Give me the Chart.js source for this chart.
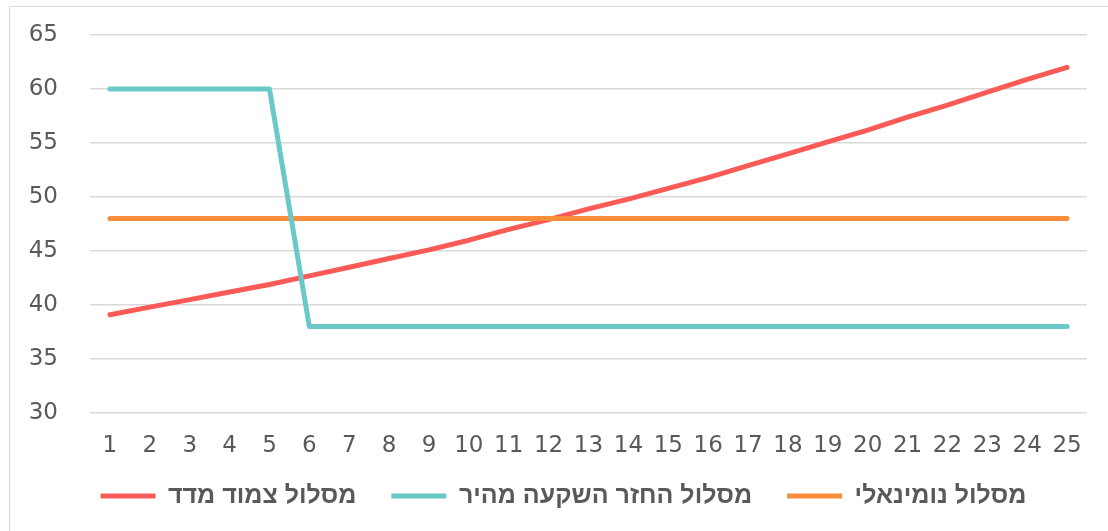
<!DOCTYPE html>
<html>
<head>
<meta charset="utf-8">
<script src="https://cdn.jsdelivr.net/npm/chart.js@4/dist/chart.umd.min.js"></script>
<style>
  html, body { margin: 0; padding: 0; background: #fff; overflow: hidden; width: 1108px; height: 531px; }
  #frame { position: absolute; left: 9px; top: 6px; width: 1120px; height: 560px; border: 1px solid #d9d9d9; box-sizing: border-box; }
  #wrap { position: absolute; left: 0; top: 0; width: 1108px; height: 531px; }
</style>
</head>
<body>
<div id="frame"></div>
<div id="wrap"><canvas id="c"></canvas></div>
<script>
const categories = ['1','2','3','4','5','6','7','8','9','10','11','12','13','14','15','16','17','18','19','20','21','22','23','24','25'];
const seriesNames = ['מסלול צמוד מדד', 'מסלול החזר השקעה מהיר', 'מסלול נומינאלי'];
const indexLinked = [39.1, 39.8, 40.5, 41.2, 41.9, 42.7, 43.5, 44.3, 45.1, 46.0, 47.0, 47.9, 48.9, 49.8, 50.8, 51.8, 52.9, 54.0, 55.1, 56.2, 57.4, 58.5, 59.7, 60.9, 62.0];
const fastReturn = [60, 60, 60, 60, 60, 38, 38, 38, 38, 38, 38, 38, 38, 38, 38, 38, 38, 38, 38, 38, 38, 38, 38, 38, 38];
const nominal = [48, 48, 48, 48, 48, 48, 48, 48, 48, 48, 48, 48, 48, 48, 48, 48, 48, 48, 48, 48, 48, 48, 48, 48, 48];
const yMin = 30, yMax = 65, yStep = 5;

const common = { borderWidth: 5, pointRadius: 0, pointHoverRadius: 0, tension: 0, borderCapStyle: 'round', borderJoinStyle: 'round', fill: false };

const legendShift = {
  id: 'legendShift',
  afterLayout(chart) {
    const lg = chart.legend;
    if (!lg) return;
    lg.top -= 12.5; lg.bottom -= 12.5;
    lg.left += 20; lg.right += 20;
  }
};

new Chart(document.getElementById('c'), {
  type: 'line',
  data: {
    labels: categories,
    datasets: [
      Object.assign({ label: seriesNames[0], data: indexLinked, borderColor: '#FA5B56', backgroundColor: '#FA5B56', order: 2 }, common),
      Object.assign({ label: seriesNames[1], data: fastReturn, borderColor: '#6BC8C8', backgroundColor: '#6BC8C8', order: 0 }, common),
      Object.assign({ label: seriesNames[2], data: nominal, borderColor: '#FC8D3B', backgroundColor: '#FC8D3B', order: 1 }, common)
    ]
  },
  plugins: [legendShift],
  options: {
    responsive: true,
    maintainAspectRatio: false,
    animation: false,
    layout: { padding: { left: 0, right: 21, top: 35, bottom: 0 } },
    scales: {
      x: {
        offset: true,
        grid: { display: false, drawTicks: false },
        border: { display: false },
        ticks: { color: '#595959', font: { family: 'DejaVu Sans', size: 23 }, padding: 19, maxRotation: 0, autoSkip: false },
        afterFit: (s) => { s.height = 48; }
      },
      y: {
        min: yMin, max: yMax,
        grid: { color: '#d9d9d9', lineWidth: 1.5, drawTicks: false },
        border: { display: false },
        ticks: { stepSize: yStep, color: '#595959', font: { family: 'DejaVu Sans', size: 23 }, padding: 32 },
        afterFit: (s) => { s.width = 90; s.paddingTop = 0; s.paddingBottom = 0; }
      }
    },
    plugins: {
      tooltip: { enabled: false },
      legend: {
        position: 'bottom',
        labels: {
          usePointStyle: true,
          pointStyle: 'line',
          pointStyleWidth: 55,
          padding: 35,
          color: '#595959',
          font: { family: 'Liberation Sans', size: 25, weight: 'bold' },
          sort: (a, b) => a.datasetIndex - b.datasetIndex
        }
      }
    }
  }
});
</script>
</body>
</html>
